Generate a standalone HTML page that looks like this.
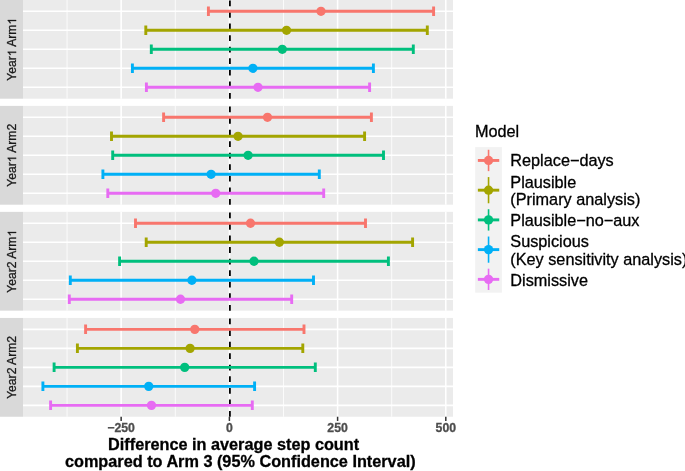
<!DOCTYPE html><html><head><meta charset="utf-8"><style>html,body{margin:0;padding:0;background:#fff;}svg{display:block;will-change:transform;}text{font-family:"Liberation Sans",sans-serif;stroke:currentColor;stroke-width:0.3px;}</style></head><body>
<svg width="685" height="471" viewBox="0 0 685 471">
<rect x="0" y="0" width="685" height="471" fill="#fff"/>
<rect x="23.0" y="-0.1" width="430.0" height="98.8" fill="#EBEBEB"/>
<rect x="0" y="-0.1" width="23.0" height="98.8" fill="#D9D9D9"/>
<line x1="67.05" y1="-0.1" x2="67.05" y2="98.7" stroke="#fff" stroke-width="0.8"/>
<line x1="175.3" y1="-0.1" x2="175.3" y2="98.7" stroke="#fff" stroke-width="0.8"/>
<line x1="283.5" y1="-0.1" x2="283.5" y2="98.7" stroke="#fff" stroke-width="0.8"/>
<line x1="391.7" y1="-0.1" x2="391.7" y2="98.7" stroke="#fff" stroke-width="0.8"/>
<line x1="121.15" y1="-0.1" x2="121.15" y2="98.7" stroke="#fff" stroke-width="1.55"/>
<line x1="229.4" y1="-0.1" x2="229.4" y2="98.7" stroke="#fff" stroke-width="1.55"/>
<line x1="337.6" y1="-0.1" x2="337.6" y2="98.7" stroke="#fff" stroke-width="1.55"/>
<line x1="445.8" y1="-0.1" x2="445.8" y2="98.7" stroke="#fff" stroke-width="1.55"/>
<line x1="23.0" y1="11.30" x2="453.0" y2="11.30" stroke="#fff" stroke-width="1.55"/>
<line x1="23.0" y1="30.30" x2="453.0" y2="30.30" stroke="#fff" stroke-width="1.55"/>
<line x1="23.0" y1="49.30" x2="453.0" y2="49.30" stroke="#fff" stroke-width="1.55"/>
<line x1="23.0" y1="68.30" x2="453.0" y2="68.30" stroke="#fff" stroke-width="1.55"/>
<line x1="23.0" y1="87.30" x2="453.0" y2="87.30" stroke="#fff" stroke-width="1.55"/>
<line x1="229.9" y1="98.7" x2="229.9" y2="-0.1" stroke="#000" stroke-width="1.8" stroke-dasharray="5.775 5.775"/>
<path d="M208.4 11.30H433.6M208.4 6.55V16.05M433.6 6.55V16.05" stroke="#F8766D" stroke-width="2.9" fill="none"/>
<circle cx="321.00" cy="11.30" r="4.65" fill="#F8766D"/>
<path d="M145.8 30.30H427.3M145.8 25.55V35.05M427.3 25.55V35.05" stroke="#A3A500" stroke-width="2.9" fill="none"/>
<circle cx="286.55" cy="30.30" r="4.65" fill="#A3A500"/>
<path d="M151.3 49.30H413.3M151.3 44.55V54.05M413.3 44.55V54.05" stroke="#00BF7D" stroke-width="2.9" fill="none"/>
<circle cx="282.30" cy="49.30" r="4.65" fill="#00BF7D"/>
<path d="M132.4 68.30H373.4M132.4 63.55V73.05M373.4 63.55V73.05" stroke="#00B0F6" stroke-width="2.9" fill="none"/>
<circle cx="252.90" cy="68.30" r="4.65" fill="#00B0F6"/>
<path d="M146.4 87.30H369.6M146.4 82.55V92.05M369.6 82.55V92.05" stroke="#E76BF3" stroke-width="2.9" fill="none"/>
<circle cx="258.00" cy="87.30" r="4.65" fill="#E76BF3"/>
<g transform="translate(16.1 49.30) rotate(-90)" fill="#1A1A1A" color="#1A1A1A"><text x="-31.52" y="0" font-size="12.15" xml:space="preserve">Year</text><path d="M763 0L583 0L583 1098C540 1059 483 1019 413 979C343 940 280 910 225 890L225 1057C326 1102 414 1157 489 1221C564 1285 617 1349 649 1409L763 1409Z" transform="translate(-6.97 0) scale(0.005933 -0.005933)" stroke="#1A1A1A" stroke-width="50.6"/><text x="-0.21" y="0" font-size="12.15" xml:space="preserve"> Arm</text><path d="M763 0L583 0L583 1098C540 1059 483 1019 413 979C343 940 280 910 225 890L225 1057C326 1102 414 1157 489 1221C564 1285 617 1349 649 1409L763 1409Z" transform="translate(24.76 0) scale(0.005933 -0.005933)" stroke="#1A1A1A" stroke-width="50.6"/></g>
<rect x="23.0" y="105.9" width="430.0" height="98.8" fill="#EBEBEB"/>
<rect x="0" y="105.9" width="23.0" height="98.8" fill="#D9D9D9"/>
<line x1="67.05" y1="105.9" x2="67.05" y2="204.7" stroke="#fff" stroke-width="0.8"/>
<line x1="175.3" y1="105.9" x2="175.3" y2="204.7" stroke="#fff" stroke-width="0.8"/>
<line x1="283.5" y1="105.9" x2="283.5" y2="204.7" stroke="#fff" stroke-width="0.8"/>
<line x1="391.7" y1="105.9" x2="391.7" y2="204.7" stroke="#fff" stroke-width="0.8"/>
<line x1="121.15" y1="105.9" x2="121.15" y2="204.7" stroke="#fff" stroke-width="1.55"/>
<line x1="229.4" y1="105.9" x2="229.4" y2="204.7" stroke="#fff" stroke-width="1.55"/>
<line x1="337.6" y1="105.9" x2="337.6" y2="204.7" stroke="#fff" stroke-width="1.55"/>
<line x1="445.8" y1="105.9" x2="445.8" y2="204.7" stroke="#fff" stroke-width="1.55"/>
<line x1="23.0" y1="117.30" x2="453.0" y2="117.30" stroke="#fff" stroke-width="1.55"/>
<line x1="23.0" y1="136.30" x2="453.0" y2="136.30" stroke="#fff" stroke-width="1.55"/>
<line x1="23.0" y1="155.30" x2="453.0" y2="155.30" stroke="#fff" stroke-width="1.55"/>
<line x1="23.0" y1="174.30" x2="453.0" y2="174.30" stroke="#fff" stroke-width="1.55"/>
<line x1="23.0" y1="193.30" x2="453.0" y2="193.30" stroke="#fff" stroke-width="1.55"/>
<line x1="229.9" y1="204.7" x2="229.9" y2="105.9" stroke="#000" stroke-width="1.8" stroke-dasharray="5.775 5.775"/>
<path d="M163.6 117.30H371.4M163.6 112.55V122.05M371.4 112.55V122.05" stroke="#F8766D" stroke-width="2.9" fill="none"/>
<circle cx="267.50" cy="117.30" r="4.65" fill="#F8766D"/>
<path d="M111.5 136.30H364.6M111.5 131.55V141.05M364.6 131.55V141.05" stroke="#A3A500" stroke-width="2.9" fill="none"/>
<circle cx="238.05" cy="136.30" r="4.65" fill="#A3A500"/>
<path d="M112.7 155.30H383.5M112.7 150.55V160.05M383.5 150.55V160.05" stroke="#00BF7D" stroke-width="2.9" fill="none"/>
<circle cx="248.10" cy="155.30" r="4.65" fill="#00BF7D"/>
<path d="M102.9 174.30H319.3M102.9 169.55V179.05M319.3 169.55V179.05" stroke="#00B0F6" stroke-width="2.9" fill="none"/>
<circle cx="211.10" cy="174.30" r="4.65" fill="#00B0F6"/>
<path d="M107.8 193.30H323.7M107.8 188.55V198.05M323.7 188.55V198.05" stroke="#E76BF3" stroke-width="2.9" fill="none"/>
<circle cx="215.75" cy="193.30" r="4.65" fill="#E76BF3"/>
<g transform="translate(16.1 155.30) rotate(-90)" fill="#1A1A1A" color="#1A1A1A"><text x="-31.52" y="0" font-size="12.15" xml:space="preserve">Year</text><path d="M763 0L583 0L583 1098C540 1059 483 1019 413 979C343 940 280 910 225 890L225 1057C326 1102 414 1157 489 1221C564 1285 617 1349 649 1409L763 1409Z" transform="translate(-6.97 0) scale(0.005933 -0.005933)" stroke="#1A1A1A" stroke-width="50.6"/><text x="-0.21" y="0" font-size="12.15" xml:space="preserve"> Arm2</text></g>
<rect x="23.0" y="211.85" width="430.0" height="98.8" fill="#EBEBEB"/>
<rect x="0" y="211.85" width="23.0" height="98.8" fill="#D9D9D9"/>
<line x1="67.05" y1="211.85" x2="67.05" y2="310.65" stroke="#fff" stroke-width="0.8"/>
<line x1="175.3" y1="211.85" x2="175.3" y2="310.65" stroke="#fff" stroke-width="0.8"/>
<line x1="283.5" y1="211.85" x2="283.5" y2="310.65" stroke="#fff" stroke-width="0.8"/>
<line x1="391.7" y1="211.85" x2="391.7" y2="310.65" stroke="#fff" stroke-width="0.8"/>
<line x1="121.15" y1="211.85" x2="121.15" y2="310.65" stroke="#fff" stroke-width="1.55"/>
<line x1="229.4" y1="211.85" x2="229.4" y2="310.65" stroke="#fff" stroke-width="1.55"/>
<line x1="337.6" y1="211.85" x2="337.6" y2="310.65" stroke="#fff" stroke-width="1.55"/>
<line x1="445.8" y1="211.85" x2="445.8" y2="310.65" stroke="#fff" stroke-width="1.55"/>
<line x1="23.0" y1="223.25" x2="453.0" y2="223.25" stroke="#fff" stroke-width="1.55"/>
<line x1="23.0" y1="242.25" x2="453.0" y2="242.25" stroke="#fff" stroke-width="1.55"/>
<line x1="23.0" y1="261.25" x2="453.0" y2="261.25" stroke="#fff" stroke-width="1.55"/>
<line x1="23.0" y1="280.25" x2="453.0" y2="280.25" stroke="#fff" stroke-width="1.55"/>
<line x1="23.0" y1="299.25" x2="453.0" y2="299.25" stroke="#fff" stroke-width="1.55"/>
<line x1="229.9" y1="310.65" x2="229.9" y2="211.85" stroke="#000" stroke-width="1.8" stroke-dasharray="5.775 5.775"/>
<path d="M135.5 223.25H365.5M135.5 218.50V228.00M365.5 218.50V228.00" stroke="#F8766D" stroke-width="2.9" fill="none"/>
<circle cx="250.50" cy="223.25" r="4.65" fill="#F8766D"/>
<path d="M146.2 242.25H412.6M146.2 237.50V247.00M412.6 237.50V247.00" stroke="#A3A500" stroke-width="2.9" fill="none"/>
<circle cx="279.40" cy="242.25" r="4.65" fill="#A3A500"/>
<path d="M119.6 261.25H388.4M119.6 256.50V266.00M388.4 256.50V266.00" stroke="#00BF7D" stroke-width="2.9" fill="none"/>
<circle cx="254.00" cy="261.25" r="4.65" fill="#00BF7D"/>
<path d="M70.3 280.25H313.5M70.3 275.50V285.00M313.5 275.50V285.00" stroke="#00B0F6" stroke-width="2.9" fill="none"/>
<circle cx="191.90" cy="280.25" r="4.65" fill="#00B0F6"/>
<path d="M69.3 299.25H291.7M69.3 294.50V304.00M291.7 294.50V304.00" stroke="#E76BF3" stroke-width="2.9" fill="none"/>
<circle cx="180.50" cy="299.25" r="4.65" fill="#E76BF3"/>
<g transform="translate(16.1 261.25) rotate(-90)" fill="#1A1A1A" color="#1A1A1A"><text x="-31.52" y="0" font-size="12.15" xml:space="preserve">Year2 Arm</text><path d="M763 0L583 0L583 1098C540 1059 483 1019 413 979C343 940 280 910 225 890L225 1057C326 1102 414 1157 489 1221C564 1285 617 1349 649 1409L763 1409Z" transform="translate(24.76 0) scale(0.005933 -0.005933)" stroke="#1A1A1A" stroke-width="50.6"/></g>
<rect x="23.0" y="317.95" width="430.0" height="98.8" fill="#EBEBEB"/>
<rect x="0" y="317.95" width="23.0" height="98.8" fill="#D9D9D9"/>
<line x1="67.05" y1="317.95" x2="67.05" y2="416.75" stroke="#fff" stroke-width="0.8"/>
<line x1="175.3" y1="317.95" x2="175.3" y2="416.75" stroke="#fff" stroke-width="0.8"/>
<line x1="283.5" y1="317.95" x2="283.5" y2="416.75" stroke="#fff" stroke-width="0.8"/>
<line x1="391.7" y1="317.95" x2="391.7" y2="416.75" stroke="#fff" stroke-width="0.8"/>
<line x1="121.15" y1="317.95" x2="121.15" y2="416.75" stroke="#fff" stroke-width="1.55"/>
<line x1="229.4" y1="317.95" x2="229.4" y2="416.75" stroke="#fff" stroke-width="1.55"/>
<line x1="337.6" y1="317.95" x2="337.6" y2="416.75" stroke="#fff" stroke-width="1.55"/>
<line x1="445.8" y1="317.95" x2="445.8" y2="416.75" stroke="#fff" stroke-width="1.55"/>
<line x1="23.0" y1="329.35" x2="453.0" y2="329.35" stroke="#fff" stroke-width="1.55"/>
<line x1="23.0" y1="348.35" x2="453.0" y2="348.35" stroke="#fff" stroke-width="1.55"/>
<line x1="23.0" y1="367.35" x2="453.0" y2="367.35" stroke="#fff" stroke-width="1.55"/>
<line x1="23.0" y1="386.35" x2="453.0" y2="386.35" stroke="#fff" stroke-width="1.55"/>
<line x1="23.0" y1="405.35" x2="453.0" y2="405.35" stroke="#fff" stroke-width="1.55"/>
<line x1="229.9" y1="416.75" x2="229.9" y2="317.95" stroke="#000" stroke-width="1.8" stroke-dasharray="5.775 5.775"/>
<path d="M85.6 329.35H304.0M85.6 324.60V334.10M304.0 324.60V334.10" stroke="#F8766D" stroke-width="2.9" fill="none"/>
<circle cx="194.80" cy="329.35" r="4.65" fill="#F8766D"/>
<path d="M77.4 348.35H302.8M77.4 343.60V353.10M302.8 343.60V353.10" stroke="#A3A500" stroke-width="2.9" fill="none"/>
<circle cx="190.10" cy="348.35" r="4.65" fill="#A3A500"/>
<path d="M54.1 367.35H315.3M54.1 362.60V372.10M315.3 362.60V372.10" stroke="#00BF7D" stroke-width="2.9" fill="none"/>
<circle cx="184.70" cy="367.35" r="4.65" fill="#00BF7D"/>
<path d="M42.9 386.35H254.6M42.9 381.60V391.10M254.6 381.60V391.10" stroke="#00B0F6" stroke-width="2.9" fill="none"/>
<circle cx="148.75" cy="386.35" r="4.65" fill="#00B0F6"/>
<path d="M50.6 405.35H252.3M50.6 400.60V410.10M252.3 400.60V410.10" stroke="#E76BF3" stroke-width="2.9" fill="none"/>
<circle cx="151.45" cy="405.35" r="4.65" fill="#E76BF3"/>
<g transform="translate(16.1 367.35) rotate(-90)" fill="#1A1A1A" color="#1A1A1A"><text x="-31.52" y="0" font-size="12.15" xml:space="preserve">Year2 Arm2</text></g>
<line x1="121.15" y1="416.75" x2="121.15" y2="420.95" stroke="#333" stroke-width="1.5"/>
<text x="121.15" y="431.9" text-anchor="middle" font-size="12.25" font-weight="bold" fill="#4D4D4D" color="#4D4D4D">−250</text>
<line x1="229.4" y1="416.75" x2="229.4" y2="420.95" stroke="#333" stroke-width="1.5"/>
<text x="229.4" y="431.9" text-anchor="middle" font-size="12.25" font-weight="bold" fill="#4D4D4D" color="#4D4D4D">0</text>
<line x1="337.6" y1="416.75" x2="337.6" y2="420.95" stroke="#333" stroke-width="1.5"/>
<text x="337.6" y="431.9" text-anchor="middle" font-size="12.25" font-weight="bold" fill="#4D4D4D" color="#4D4D4D">250</text>
<line x1="445.8" y1="416.75" x2="445.8" y2="420.95" stroke="#333" stroke-width="1.5"/>
<text x="445.8" y="431.9" text-anchor="middle" font-size="12.25" font-weight="bold" fill="#4D4D4D" color="#4D4D4D">500</text>
<text x="233.6" y="450.4" text-anchor="middle" font-size="16.25" font-weight="bold" fill="#000" color="#000">Difference in average step count</text>
<text x="240.3" y="467.3" text-anchor="middle" font-size="16.25" font-weight="bold" fill="#000" color="#000">compared to Arm 3 (95% Confidence Interval)</text>
<text x="474.9" y="136.8" font-size="16.25" fill="#000" color="#000">Model</text>
<rect x="475.2" y="147.1" width="26.7" height="145.60" fill="#F2F2F2"/>
<line x1="477.87" y1="160.45" x2="499.23" y2="160.45" stroke="#F8766D" stroke-width="2.9"/>
<line x1="488.55" y1="149.77" x2="488.55" y2="171.13" stroke="#F8766D" stroke-width="1.6"/>
<circle cx="488.55" cy="160.45" r="4.65" fill="#F8766D"/>
<line x1="477.87" y1="190.18" x2="499.23" y2="190.18" stroke="#A3A500" stroke-width="2.9"/>
<line x1="488.55" y1="177.08" x2="488.55" y2="203.28" stroke="#A3A500" stroke-width="1.6"/>
<circle cx="488.55" cy="190.18" r="4.65" fill="#A3A500"/>
<line x1="477.87" y1="219.90" x2="499.23" y2="219.90" stroke="#00BF7D" stroke-width="2.9"/>
<line x1="488.55" y1="209.22" x2="488.55" y2="230.58" stroke="#00BF7D" stroke-width="1.6"/>
<circle cx="488.55" cy="219.90" r="4.65" fill="#00BF7D"/>
<line x1="477.87" y1="249.62" x2="499.23" y2="249.62" stroke="#00B0F6" stroke-width="2.9"/>
<line x1="488.55" y1="236.53" x2="488.55" y2="262.73" stroke="#00B0F6" stroke-width="1.6"/>
<circle cx="488.55" cy="249.62" r="4.65" fill="#00B0F6"/>
<line x1="477.87" y1="279.35" x2="499.23" y2="279.35" stroke="#E76BF3" stroke-width="2.9"/>
<line x1="488.55" y1="268.67" x2="488.55" y2="290.03" stroke="#E76BF3" stroke-width="1.6"/>
<circle cx="488.55" cy="279.35" r="4.65" fill="#E76BF3"/>
<text x="510.3" y="166.25" font-size="16.25" fill="#000" color="#000">Replace−days</text>
<text x="510.3" y="187.6" font-size="16.25" fill="#000" color="#000">Plausible</text>
<text x="510.3" y="204.6" font-size="16.25" fill="#000" color="#000">(Primary analysis)</text>
<text x="510.3" y="225.5" font-size="16.25" fill="#000" color="#000">Plausible−no−aux</text>
<text x="510.3" y="247.1" font-size="16.25" fill="#000" color="#000">Suspicious</text>
<text x="510.3" y="264.7" font-size="16.25" fill="#000" color="#000">(Key sensitivity analysis)</text>
<text x="510.3" y="285.8" font-size="16.25" fill="#000" color="#000">Dismissive</text>
</svg></body></html>
